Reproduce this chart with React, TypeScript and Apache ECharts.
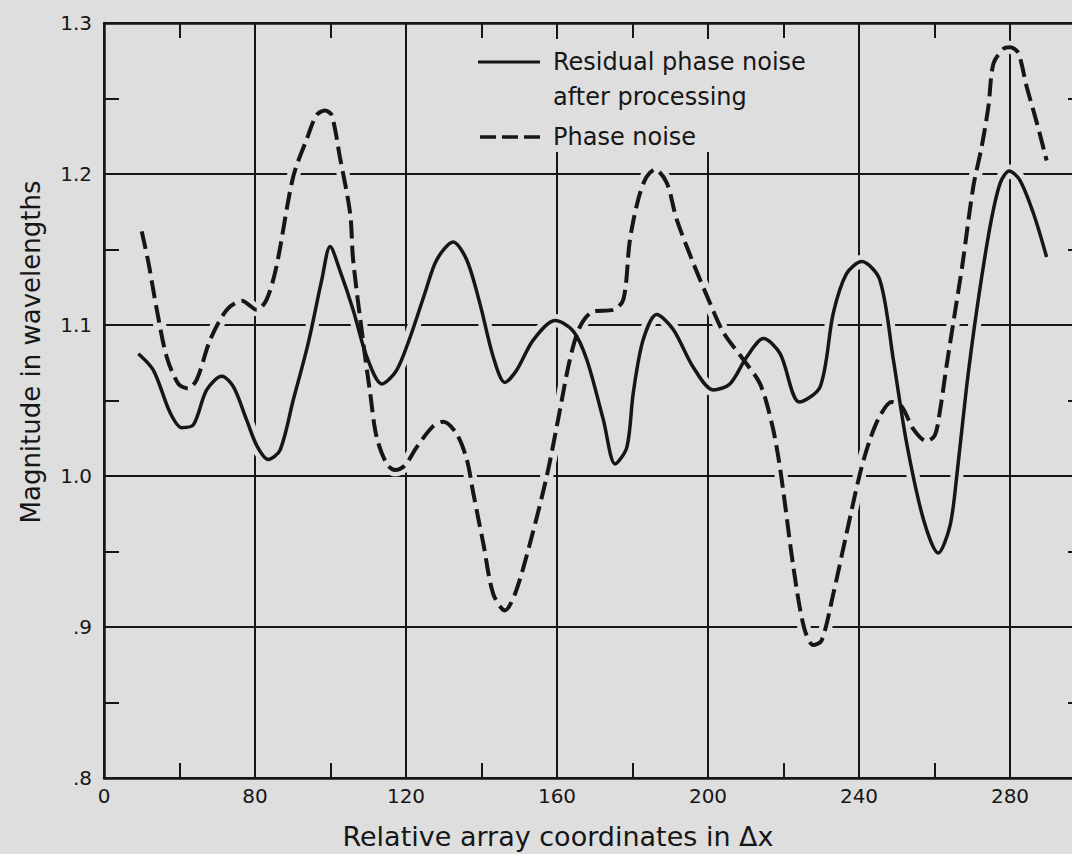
import React, { useEffect, useRef } from 'react';
import * as echarts from 'echarts';

// ---- data ----
const xTickValues = [40, 80, 120, 160, 200, 240, 280];
const xTickLabels = ['0', '80', '120', '160', '200', '240', '280'];
const yTickValues = [0.8, 0.9, 1.0, 1.1, 1.2, 1.3];
const yTickLabels = ['.8', '.9', '1.0', '1.1', '1.2', '1.3'];

const residualName = 'Residual phase noise after processing';
const phaseName = 'Phase noise';

const residual: [number, number][] = [
  [49.1, 1.081], [53.1, 1.070], [57.5, 1.042], [60.6, 1.032], [63.7, 1.034], [67.2, 1.057],
  [71.2, 1.066], [74.3, 1.059], [77.8, 1.037], [80.5, 1.020], [83.5, 1.011], [86.6, 1.017],
  [90.1, 1.050], [94.1, 1.088], [97.7, 1.130], [99.9, 1.152], [102.5, 1.136], [106, 1.110],
  [109.6, 1.079], [113.6, 1.061], [117.5, 1.070], [121.1, 1.092], [125, 1.121], [128.1, 1.143],
  [132.5, 1.155], [136.1, 1.143], [139.6, 1.114], [143.1, 1.079], [146.2, 1.062], [149.3, 1.070],
  [153.7, 1.090], [159.5, 1.103], [164.3, 1.096], [167.9, 1.077], [172.3, 1.037], [175.4, 1.008],
  [178.5, 1.019], [180.2, 1.055], [182.8, 1.090], [186.4, 1.107], [190.8, 1.097], [196.1, 1.072],
  [201.4, 1.057], [205.8, 1.061], [210.3, 1.079], [214.7, 1.091], [219.1, 1.081], [224.2, 1.049],
  [229.7, 1.059], [233.2, 1.108], [236.7, 1.134], [240.7, 1.142], [245.5, 1.130], [249.1, 1.077],
  [252.6, 1.022], [257.1, 0.971], [261, 0.949], [264.1, 0.967], [265.9, 1.000], [268.5, 1.059],
  [271.2, 1.110], [274.7, 1.165], [277.4, 1.194], [279.8, 1.202], [282.6, 1.196], [286.2, 1.174],
  [289.7, 1.145],
];

const phase: [number, number][] = [
  [50, 1.162], [51.8, 1.141], [54, 1.110], [56.6, 1.079], [59.7, 1.061], [62.3, 1.058],
  [64.6, 1.064], [68.1, 1.090], [72.5, 1.110], [76.5, 1.116], [80.5, 1.110], [83.1, 1.117],
  [85.7, 1.139], [90.1, 1.198], [93.7, 1.223], [96.3, 1.239], [98.5, 1.242], [100.3, 1.239],
  [102.5, 1.211], [105.2, 1.174], [106, 1.143], [108.7, 1.088], [110.5, 1.055], [112.2, 1.026],
  [114.9, 1.008], [117.1, 1.004], [119.7, 1.007], [122.8, 1.019], [127.2, 1.033], [129.9, 1.036],
  [133.4, 1.028], [136.1, 1.011], [137.8, 0.989], [140.5, 0.955], [143.1, 0.922], [146.2, 0.911],
  [148.9, 0.922], [152.8, 0.955], [157.3, 1.000], [160.8, 1.044], [163.4, 1.077], [166.1, 1.099],
  [169.6, 1.109], [174.9, 1.110], [177.6, 1.117], [179.3, 1.156], [181.5, 1.183], [183.7, 1.198],
  [186, 1.203], [189.1, 1.194], [191.7, 1.170], [196.1, 1.141], [200.1, 1.117], [204.1, 1.095],
  [209.4, 1.077], [213.8, 1.061], [216.9, 1.035], [218.6, 1.013], [220, 0.989], [222.6, 0.940],
  [225.4, 0.900], [227.9, 0.888], [230.1, 0.891], [233.2, 0.922], [236.7, 0.962], [240.3, 1.002],
  [242.9, 1.024], [245.6, 1.040], [248.6, 1.049], [251.3, 1.046], [254.4, 1.031], [257.9, 1.023],
  [260.1, 1.027], [261.5, 1.044], [263.2, 1.073], [265.2, 1.105], [267.4, 1.140], [270.3, 1.192],
  [272.5, 1.218], [274.3, 1.245], [275.6, 1.273], [278.3, 1.283], [280, 1.284], [282.2, 1.280],
  [284.4, 1.258], [287.1, 1.234], [289.7, 1.209],
];

// ---- styling ----
const BG = '#dedede';
const INK = '#161616';
const FONT = '"DejaVu Sans", sans-serif';
const CHART_W = 1200; // wider than the window: the right part of the frame is cut off, as in the reference
const CHART_H = 854;

function xLabel(v: number): string {
  const i = xTickValues.findIndex((t) => Math.abs(t - v) < 1e-6);
  return i >= 0 ? xTickLabels[i] : '';
}
function yLabel(v: number): string {
  const i = yTickValues.findIndex((t) => Math.abs(t - v) < 1e-6);
  return i >= 0 ? yTickLabels[i] : '';
}

const axisLineStyle = { color: INK, width: 2.5 };
const minorTick = { show: true, splitNumber: 2, length: 15, lineStyle: { color: INK, width: 2 } };

function buildOption(): any {
  const xBase = {
    type: 'value',
    min: 40,
    max: 320,
    interval: 40,
    axisLine: { show: true, onZero: false, lineStyle: axisLineStyle },
    axisTick: { show: false, inside: true },
    minorTick,
  };
  const yBase = {
    type: 'value',
    min: 0.8,
    max: 1.3,
    interval: 0.1,
    axisLine: { show: true, onZero: false, lineStyle: axisLineStyle },
    axisTick: { show: false, inside: true },
    minorTick,
  };
  const textStyle = (text: string, size: number, align: string) => ({
    text,
    font: size + 'px ' + FONT,
    fill: INK,
    textAlign: align,
    align,
    textVerticalAlign: 'middle',
    verticalAlign: 'middle',
  });
  return {
    animation: false,
    backgroundColor: BG,
    grid: { left: 104, top: 23, right: CHART_W - 1161, bottom: 76, containLabel: false },
    xAxis: [
      {
        ...xBase,
        position: 'bottom',
        splitLine: { show: true, lineStyle: { color: INK, width: 2 } },
        axisLabel: { formatter: xLabel, fontFamily: FONT, fontSize: 20, color: INK, margin: 8 },
      },
      {
        ...xBase,
        position: 'top',
        splitLine: { show: false },
        axisLabel: { show: false },
      },
    ],
    yAxis: [
      {
        ...yBase,
        position: 'left',
        splitLine: { show: true, lineStyle: { color: INK, width: 2 } },
        axisLabel: { formatter: yLabel, fontFamily: FONT, fontSize: 20, color: INK, margin: 12 },
      },
      {
        ...yBase,
        position: 'right',
        offset: -78,
        splitLine: { show: false },
        axisLabel: { show: false },
      },
    ],
    series: [
      {
        name: residualName + ' halo',
        type: 'line',
        data: residual,
        smooth: 0.3,
        showSymbol: false,
        silent: true,
        z: 2,
        lineStyle: { color: BG, width: 13 },
      },
      {
        name: phaseName + ' halo',
        type: 'line',
        data: phase,
        smooth: 0.3,
        showSymbol: false,
        silent: true,
        z: 2,
        lineStyle: { color: BG, width: 13 },
      },
      {
        name: residualName,
        type: 'line',
        data: residual,
        smooth: 0.3,
        showSymbol: false,
        z: 3,
        lineStyle: { color: INK, width: 3.5 },
      },
      {
        name: phaseName,
        type: 'line',
        data: phase,
        smooth: 0.3,
        showSymbol: false,
        z: 3,
        lineStyle: { color: INK, width: 4, type: [18, 7] },
      },
    ],
    graphic: [
      {
        type: 'rect',
        z: 1,
        silent: true,
        shape: { x: 470, y: 39, width: 345, height: 113 },
        style: { fill: BG },
      },
      {
        type: 'line',
        z: 10,
        shape: { x1: 478, y1: 62, x2: 540, y2: 62 },
        style: { stroke: INK, lineWidth: 3 },
      },
      {
        type: 'line',
        z: 10,
        shape: { x1: 480, y1: 137, x2: 540, y2: 137 },
        style: { stroke: INK, lineWidth: 3.5, lineDash: [16, 6] },
      },
      { type: 'text', z: 10, x: 553, y: 62, style: textStyle('Residual phase noise', 24, 'left') },
      { type: 'text', z: 10, x: 553, y: 97, style: textStyle('after processing', 24, 'left') },
      { type: 'text', z: 10, x: 553, y: 137, style: textStyle(phaseName, 24, 'left') },
      {
        type: 'text',
        z: 10,
        x: 558,
        y: 836,
        style: textStyle('Relative array coordinates in Δx', 27, 'center'),
      },
      {
        type: 'text',
        z: 10,
        x: 31,
        y: 352,
        rotation: Math.PI / 2,
        style: textStyle('Magnitude in wavelengths', 26, 'center'),
      },
    ],
  };
}

export default function App() {
  const ref = useRef<HTMLDivElement>(null);
  useEffect(() => {
    if (!ref.current) return;
    const chart = echarts.init(ref.current, undefined, { renderer: 'svg' });
    chart.setOption(buildOption());
    return () => chart.dispose();
  }, []);
  return (
    <div
      ref={ref}
      style={{ position: 'fixed', left: 0, top: 0, width: CHART_W, height: CHART_H, background: BG }}
    />
  );
}
